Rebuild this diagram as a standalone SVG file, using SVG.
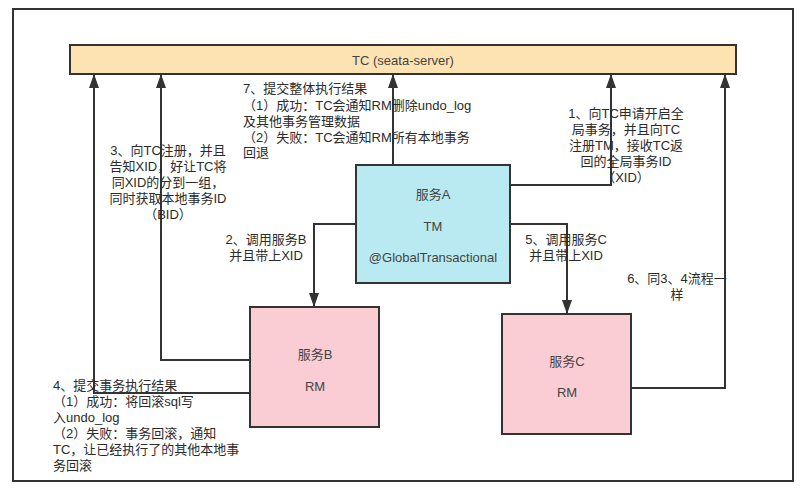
<svg xmlns="http://www.w3.org/2000/svg" width="804" height="488" viewBox="0 0 804 488">
<style>
text{font-family:"Liberation Sans","Noto Sans CJK SC",sans-serif;font-size:13px;fill:#2b2b2b}
.n text{fill:#444;text-anchor:middle}
.box{stroke:#333;stroke-width:2}
.c path{fill:none;stroke:#333;stroke-width:2;marker-end:url(#arr)}
.m{text-anchor:middle}
</style>
<defs>
<marker id="arr" markerUnits="userSpaceOnUse" viewBox="0 0 14 10" refX="13" refY="5" markerWidth="14" markerHeight="10" orient="auto">
<path d="M0,0 L14,5 L0,10 Z" fill="#333"/>
</marker>
</defs>
<rect x="0" y="0" width="804" height="488" fill="#fff"/>
<g id="frame"><rect x="13" y="9" width="780" height="472" fill="none" stroke="#333" stroke-width="2"/></g>
<g id="tc" class="n"><rect class="box" x="70" y="45" width="666" height="29" fill="#FDE3B2"/><text x="403" y="64.5">TC (seata-server)</text></g>
<g id="serviceA" class="n"><rect class="box" x="356" y="165" width="154" height="118" fill="#BAEAF1"/><text x="433" y="198.5">服务A</text><text x="433" y="230.5">TM</text><text x="433" y="261.5">@GlobalTransactional</text></g>
<g id="serviceB" class="n"><rect class="box" x="250" y="307" width="129" height="120" fill="#FACCD4"/><text x="315" y="358.5">服务B</text><text x="315" y="390.5">RM</text></g>
<g id="serviceC" class="n"><rect class="box" x="502" y="314" width="129" height="120" fill="#FACCD4"/><text x="567" y="365.5">服务C</text><text x="567" y="396.5">RM</text></g>
<g id="connectors" class="c">
<path d="M510,185 H611 V75"/>
<path d="M356,224 H314 V306"/>
<path d="M250,360 H161 V75"/>
<path d="M250,393 H94 V75"/>
<path d="M510,224 H567 V313"/>
<path d="M632,388 H725 V75"/>
<path d="M393,165 V75"/>
</g>
<g id="labels">
<g id="label1" class="m"><text x="626" y="117.5">1、向TC申请开启全</text><text x="626" y="133.5">局事务，并且向TC</text><text x="626" y="149.5">注册TM，接收TC返</text><text x="626" y="165.5">回的全局事务ID</text><text x="626" y="181.5">（XID）</text></g>
<g id="label2" class="m"><text x="266" y="243.5">2、调用服务B</text><text x="266" y="259.5">并且带上XID</text></g>
<g id="label3" class="m"><text x="168" y="154.5">3、向TC注册，并且</text><text x="168" y="170.5">告知XID，好让TC将</text><text x="168" y="186.5">同XID的分到一组，</text><text x="168" y="202.5">同时获取本地事务ID</text><text x="168" y="218.5">（BID）</text></g>
<g id="label4"><text x="53" y="389.5">4、提交事务执行结果</text><text x="53" y="405.5">（1）成功：将回滚sql写</text><text x="53" y="421.5">入undo_log</text><text x="53" y="437.5">（2）失败：事务回滚，通知</text><text x="53" y="453.5">TC，让已经执行了的其他本地事</text><text x="53" y="469.5">务回滚</text></g>
<g id="label5" class="m"><text x="566" y="243.5">5、调用服务C</text><text x="566" y="259.5">并且带上XID</text></g>
<g id="label6" class="m"><text x="677" y="282.5">6、同3、4流程一</text><text x="677" y="298.5">样</text></g>
<g id="label7"><text x="243" y="92.5">7、提交整体执行结果</text><text x="243" y="109.5">（1）成功：TC会通知RM删除undo_log</text><text x="243" y="125.5">及其他事务管理数据</text><text x="243" y="141.5">（2）失败：TC会通知RM所有本地事务</text><text x="243" y="156.5">回退</text></g>
</g>
</svg>
